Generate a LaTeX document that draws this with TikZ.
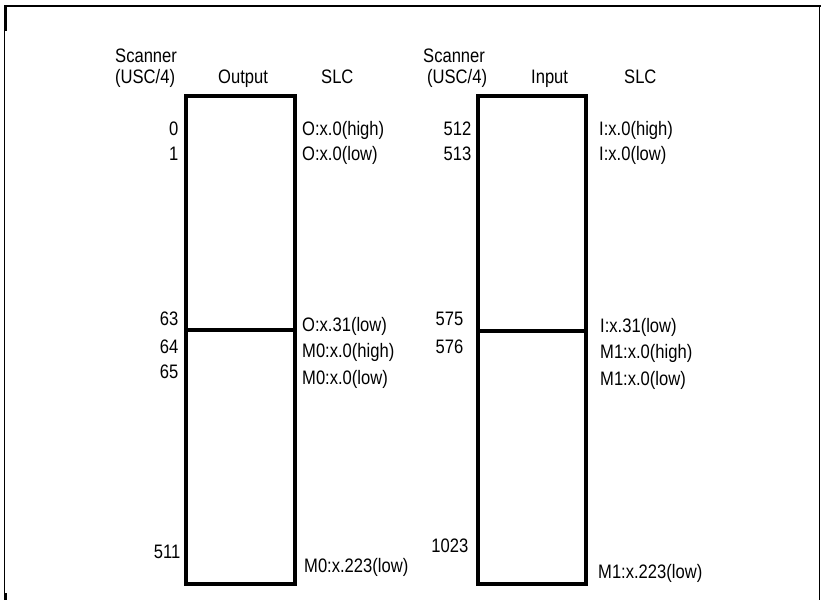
\documentclass[tikz,border=0pt]{standalone}
\usepackage{fontspec}
\setmainfont[FakeStretch=0.85]{Liberation Sans}
\begin{document}
\begin{tikzpicture}[x=1pt, y=-1pt,
    lbl/.style={font=\fontsize{19.5}{22}\selectfont, inner sep=0pt},
    num/.style={lbl, anchor=base east},
    slc/.style={lbl, anchor=base west},
    head/.style={lbl, anchor=base west},
    mem/.style={line width=4pt, line cap=rect}]
    \useasboundingbox (0,0) rectangle (821,600);
    % frame
    \draw[line width=2.5pt] (4,6) -- (821,6);
    \draw[line width=1.3pt] (4.6,6) -- (4.6,600);
    \draw[line width=1pt] (819.8,6) -- (819.8,600);
    \fill (4,5) rectangle (6.5,31);
    \fill (4,593) rectangle (7,600);
    % output table
    \node[head] (sc1) at (115,62) {Scanner};
    \node[head] (usc1) at (115,83) {(USC/4)};
    \node[head] (outh) at (218,83) {Output};
    \node[head] (slc1) at (321,83) {SLC};
    \draw[mem] (186,95.5) rectangle (294.5,584);
    \draw[mem] (186,329.5) -- (294.5,329.5);
    \node[num] (o0) at (178.5,135) {0};
    \node[num] (o1) at (178.5,160) {1};
    \node[num] (o63) at (178.5,325) {63};
    \node[num] (o64) at (178.5,353) {64};
    \node[num] (o65) at (178.5,378) {65};
    \node[num] (o511) at (180.5,558) {511};
    \node[slc] (so0h) at (302,135) {O:x.0(high)};
    \node[slc] (so0l) at (302,160) {O:x.0(low)};
    \node[slc] (so31) at (302,331) {O:x.31(low)};
    \node[slc] (sm0h) at (302,357) {M0:x.0(high)};
    \node[slc] (sm0l) at (302,384) {M0:x.0(low)};
    \node[slc] (sm0e) at (304,572) {M0:x.223(low)};
    % input table
    \node[head] (sc2) at (423,62) {Scanner};
    \node[head] (usc2) at (427,83) {(USC/4)};
    \node[head] (inh) at (531,83) {Input};
    \node[head] (slc2) at (624,83) {SLC};
    \draw[mem] (478,95.5) rectangle (585.5,584);
    \draw[mem] (478,331) -- (585.5,331);
    \node[num] (i512) at (471.5,135) {512};
    \node[num] (i513) at (471.5,160) {513};
    \node[num] (i575) at (463.5,325) {575};
    \node[num] (i576) at (463.5,353) {576};
    \node[num] (i1023) at (468.5,552) {1023};
    \node[slc] (si0h) at (599,135) {I:x.0(high)};
    \node[slc] (si0l) at (599,160) {I:x.0(low)};
    \node[slc] (si31) at (600,332) {I:x.31(low)};
    \node[slc] (sm1h) at (600,358) {M1:x.0(high)};
    \node[slc] (sm1l) at (600,385) {M1:x.0(low)};
    \node[slc] (sm1e) at (598,578) {M1:x.223(low)};
\end{tikzpicture}
\end{document}
